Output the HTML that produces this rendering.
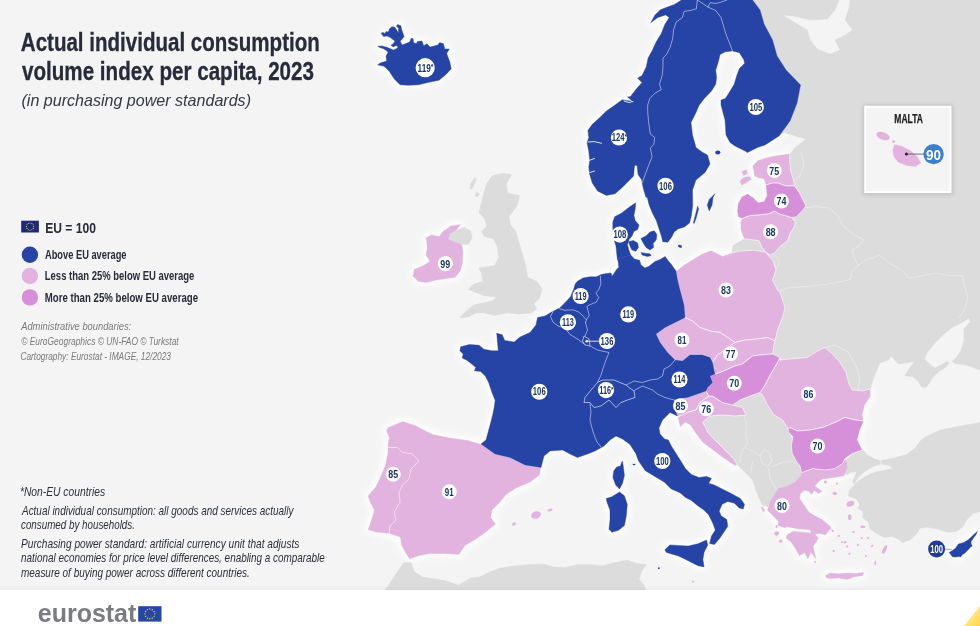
<!DOCTYPE html><html><head><meta charset="utf-8"><title>Actual individual consumption volume index per capita, 2023</title>
<style>html,body{margin:0;padding:0;background:#fff}svg{display:block}text{font-family:"Liberation Sans",Arial,sans-serif}</style></head><body>
<svg width="980" height="626" viewBox="0 0 980 626">
<rect width="980" height="626" fill="#fff"/><rect width="980" height="590" fill="#f4f4f4"/>
<defs><clipPath id="mapclip"><rect x="0" y="0" width="980" height="590"/></clipPath><linearGradient id="yel" x1="0" y1="0" x2="1" y2="1"><stop offset="0" stop-color="#fff3b0"/><stop offset="1" stop-color="#ffd84a"/></linearGradient><linearGradient id="bot" x1="0" y1="0" x2="0" y2="1"><stop offset="0" stop-color="#000" stop-opacity="0"/><stop offset="1" stop-color="#000" stop-opacity="0.035"/></linearGradient><filter id="halo" x="-20%" y="-20%" width="140%" height="140%"><feGaussianBlur stdDeviation="3"/></filter><filter id="sh" x="-10%" y="-10%" width="120%" height="120%"><feGaussianBlur stdDeviation="2"/></filter></defs>
<g clip-path="url(#mapclip)">
<g filter="url(#halo)" opacity="0.85">
<polygon points="443.2,231.2 451.1,225.9 460.4,224.6 456.4,229.9 449.8,233.8 448.5,239.1 453.8,241.7 461.7,244.4 463,251 462.5,262.8 460.4,270.7 455.1,277.3 447.2,278.6 436.6,280 426.1,282.6 418.2,281.3 412.9,276 414.2,269.4 423.5,265.5 430,261.5 426.1,254.9 427.4,247 426.1,237.8 431.4,235.1 439.3,236.5" fill="#fff" stroke="#fff" stroke-width="7" stroke-linejoin="round" />
<polygon points="387.5,427.5 402.5,421 415,425 432.5,434 450,437.5 467.5,440 481,444 495,454 510,457.5 525,465 541,467.5 540,475 530,482.5 515,489 506,495 500,502.5 492.5,510 491,517.5 496,524 490,529 482.5,535 475,540 465,546 459,555 445,554 430,554 419,556 409.5,559.5 405,552.5 401,545 400,537.5 390,534 376,532.5 367.5,530 371,520 374,510 370,502.5 367.5,496 375,487.5 380,477.5 385,465 387.5,452.5 387.5,445 389,437.5 386,431" fill="#fff" stroke="#fff" stroke-width="7" stroke-linejoin="round" />
<polygon points="676,271 685,264 693.8,258.8 701.5,254 711.1,250.2 716.8,253.1 722.6,256 731.2,253.1 739.8,251.2 753.3,250.2 765.7,252.1 769.5,256.9 772.5,260 776,270 772.5,280 777.5,290 780,292.5 785,307.5 782.5,317.5 777.5,330 775,341 767.5,337.5 757.5,339 745,340 735,342.5 730,339 720,332.5 710,331 700,327.5 692.5,321 685,317.5 684,305 680,290 677.5,280" fill="#fff" stroke="#fff" stroke-width="7" stroke-linejoin="round" />
<polygon points="780,360 790,359 807.5,357.5 817.5,351 825,347.5 832.5,354 840,362.5 846,372.5 849,384 852.5,390 862.5,391 870,389 871,396 865,405 862.5,415 864,421 855,420 845,417.5 835,422.5 822.5,427.5 810,430 797.5,431 790,427.5 788,429 787.5,427.5 782.5,420 774,415 767.5,405 762.5,395 760,392.5 765,385 770,375 776,365 780,357.5" fill="#fff" stroke="#fff" stroke-width="7" stroke-linejoin="round" />
<polygon points="767.3,510 770.4,501.7 775.6,492.4 778.7,488.2 787,486.2 795.3,482 800.5,475.8 801.6,472.7 814,468.5 828.5,469.5 838.9,466.4 844.1,461.2 846.2,459.2 847.2,467.5 844.1,475.8 838.9,476.8 830.6,477.9 822.3,478.9 818.2,482 815,486.2 822.3,491.4 818.2,493.4 814,490.3 811.9,494.5 808.8,491.4 804.7,490.3 800.5,493.4 799.5,498.6 804.7,505.9 808.8,512.1 814,515.5 822.3,520.5 828.5,525.7 831.5,529 829,530 825.4,535 820.2,533.5 815,534 818.2,538.1 816.1,542.2 813,546.4 815,554.7 816.1,558.9 810.9,552.6 807.8,558.9 804.7,552.6 799.5,555.7 795.3,548.5 791.2,542.2 786,538.1 787,535 793.2,531.3 804.7,532.4 811.5,533 809.9,529.8 797.4,528.7 787,526.7 784.9,527.7 777.7,525.6 778.7,521.5 772.5,515.2" fill="#fff" stroke="#fff" stroke-width="7" stroke-linejoin="round" />
<polygon points="825.4,575.5 830.6,573 838.9,573.8 847.2,573 855.6,573.4 863.9,572.4 862.8,575.5 853.5,577.1 847.2,579.6 838.9,578 830.6,578.6 826.1,577.6" fill="#fff" stroke="#fff" stroke-width="7" stroke-linejoin="round" />
<polygon points="752.3,165.9 758,160.1 766.7,157.3 776.3,155.3 789.7,153.4 789.7,161.1 790.6,170.7 793.5,180.3 794.5,186 785.8,186 778.2,183.1 772.4,183.1 765.7,185 763.8,179.3 759,178.3 754.2,176.4 753.3,170.7" fill="#fff" stroke="#fff" stroke-width="7" stroke-linejoin="round" />
<polygon points="741.8,218.6 749.4,215.7 759,214.8 768.6,213.8 774.3,210.9 779.1,213.8 785.8,215.7 791.6,217.6 795.4,222.4 793.5,228.2 789.7,233.9 787.8,240.6 780.1,246.4 774.3,253.1 770.5,255 765.7,252.1 761.9,247.3 759,240.6 751.3,239.7 743.7,238.7 740.8,230.1 740.2,222.4" fill="#fff" stroke="#fff" stroke-width="7" stroke-linejoin="round" />
<polygon points="737.9,203.3 741.8,196.5 747.5,193.7 753.3,197.5 758,202.3 763.8,201.3 766.7,195.6 765.7,185 772.4,183.1 778.2,183.1 785.8,186 794.5,186 799.3,192.7 803.1,200.4 806,206.1 801.2,211.9 796.4,216.7 791.6,217.6 785.8,215.7 779.1,213.8 774.3,210.9 768.6,213.8 759,214.8 749.4,215.7 741.8,218.6 737.9,216.7 737,210.9" fill="#fff" stroke="#fff" stroke-width="7" stroke-linejoin="round" />
<polygon points="788,429 790,427.5 797.5,431 810,430 822.5,427.5 835,422.5 845,417.5 855,420 864,421 860,430 857.5,440 862.5,450 852.5,453.5 845,458.5 842.5,463.5 835,468.5 825,470 812.5,468.5 801.6,472.7 800,466 796,460.7 792,452.7 791.5,445 792.8,436.8 788.5,432" fill="#fff" stroke="#fff" stroke-width="7" stroke-linejoin="round" />
<polygon points="709,396 712.5,396 722.5,402.5 732.5,405 742.5,407.5 746,415 735,416 722.5,415 710,416 702.5,422.5 706,428 707.5,432 715,440 725,450 732.5,457.5 737.5,465 735,466 722.5,457.5 712.5,450 702.5,442.5 695,432.5 690,425 685,422.5 680,427.5 677.5,417.5 680,416 687.5,412.5 696,410 700,402.5" fill="#fff" stroke="#fff" stroke-width="7" stroke-linejoin="round" />
<polygon points="381,33.1 383,32.5 384.9,33.4 386.1,31.5 388.4,32.1 389.3,29 391.9,26.7 394.5,27 396.4,29.6 398.3,32.8 398.6,28.3 396.4,26.1 397.7,24.5 400.9,25.8 401.5,29 402.8,32.8 404.1,36.6 402.1,39.2 400.2,41.1 402,45 408.4,42.5 409.8,41.7 411.1,38.5 413,38.5 413.6,42.4 416.2,43.7 417.5,41.4 422,41.1 423.2,44.3 423.7,45.7 426.9,43.8 430.1,47 437.8,45 439.7,42.5 443.5,43.8 444.8,48.9 449.3,48.9 446.7,53.4 449.9,62.3 451.2,68.7 446.7,73.8 439.1,80.2 430.1,82.1 418.6,84.7 408.4,85.3 400,84.7 394.3,78.9 389.2,71.3 384.1,66.2 377.7,64.9 380.2,63 386.6,61.1 386,55.9 387.9,52.7 387.4,51.3 383.6,48.8 379.8,47.5 377.8,46.2 381.7,45.9 386.8,47.2 390.6,48.8 393.2,50.1 396,49 398.3,46.9 396.1,45.6 393.2,46.9 390.9,45.3 393.2,43.7 395.1,41.1 393.2,39.8 390,37.3 386.8,36 383.6,36.6" fill="#fff" stroke="#fff" stroke-width="7" stroke-linejoin="round" />
<polygon points="681.5,0 752.5,0 760,10 764,24 772.5,40 777,56 786,70 800.5,85 797,103 790,121 779,136 765,145 757.5,147.5 747.5,152.5 745,151 735,146 730,142.5 726,135 725,120 721,105 721,100.1 725.4,98.4 728.9,93.1 734.2,84.3 736.8,75.5 739.4,68.5 744.7,63.2 743.8,59.7 739.4,52.7 732.4,50.9 725.4,51.8 720.1,54.5 718.4,61.5 715.7,70.3 716.6,77.3 715.7,84.3 711.3,91.3 704.3,98.4 699,105.4 696,112.5 691,122.5 692.5,135 696,147.5 702,152 707.5,155 710,164 705,172.5 696,180 692.5,190 692.7,205.2 691.4,215.5 689.5,223.1 684.4,227 678,228.9 674.2,232.1 671.6,237.2 667.8,242.3 662.7,241.7 661.4,235.9 658.8,228.2 656.3,220.6 652.4,212.9 649.2,205.2 647.3,197.6 645.9,197.2 643.3,188.4 641.5,179.6 638,174.4 637.1,165.6 634.5,165.6 633.6,176.1 629.2,180.5 622.2,187.5 615.1,193.7 606.4,195.4 597.6,191.1 592.3,183.1 589.7,174.4 588.8,167.3 589.7,160.3 588.8,151.5 587,142.7 588.8,137.5 587.9,130.4 592.3,124.3 599.3,118.1 606.4,111.1 615.1,104.9 622.2,99.7 632.7,101.4 627.5,97 630.5,96.6 635.8,89.6 642,82.6 637.6,78.2 642,75.5 646.3,66.7 648.1,58 652.5,50.1 656,42.2 661.3,33.4 664.8,24.6 669.2,17.6 665.7,14.9 657.8,17.6 650.7,22.8 655,15 660.4,9.7 667.4,7 674.5,4.4" fill="#fff" stroke="#fff" stroke-width="7" stroke-linejoin="round" />
<polygon points="617.3,258.9 630.7,255.1 634.5,258.9 639.6,260.2 640.9,264.7 644.8,267.9 648.6,266.6 655,261.5 660.1,259.6 665.2,256.4 667.8,260.2 671.6,264.7 676,271 677.5,280 680,290 684,305 685,317.5 675,322.5 665,327.5 656,334 660,342.5 667.5,352.5 675,360 682.5,361 690,355 702.5,355 710,357.5 712.5,362.5 714,370 715,374 710,376 712.5,382.5 707.5,387.5 706,391 697.5,394 687.5,397.5 677.5,399 674,400 675,410 677.5,416 670,412.5 662.5,420 659,428 660,434 664.5,439 668.4,440 671.2,445.8 676,453.4 680.8,461.1 685.6,468.8 691.4,474.5 699,477.4 706.7,476.4 711.5,478.4 708.6,483.2 714.4,485.1 722.1,488.9 731.7,493.7 740.3,498.5 744.5,504.3 743.2,509 739.3,508.1 734.5,503.3 727.8,501.4 722.1,504.3 719.2,511 721.1,515.8 726.8,519.6 727.8,526.3 724,532.1 720.1,537.8 714.4,544.5 709.6,543.6 711.5,535.9 715.3,530.1 712.5,522.5 708.6,514.8 703.8,510 697.1,505.2 691.4,500.4 685.6,497.5 679.9,492.7 671.2,488.9 664.5,482.2 654.9,476.4 645.3,470.7 638.6,461.1 635.8,453.4 630,444.5 622.5,439 616,436 610,440 604,446 595,451 587.5,454 577.5,457.5 570,454 562.5,450 550,451 544,456 541,467.5 525,465 510,457.5 495,454 481,444 486,440 488.7,430 490.3,424.3 492.7,414.7 494.3,406.7 495.1,400.3 491.9,392.3 488.7,382.7 485.5,376.3 480.7,371.6 474.3,370.8 475.9,367.6 471.1,363.6 467.1,360.4 462.3,358 463.1,354 459.9,350.8 460.7,346.8 469.5,344.4 479.1,345.2 483.9,349.2 491.9,350.8 498.3,350.8 497.5,342.8 496.7,333.2 502.3,334.8 504.7,340.4 514.2,342 520,337 530,332.5 536,325 537.5,317.5 545,315.9 551.7,312 559.5,308.1 561.8,305.9 566.2,301.4 570.7,296.4 573.5,289.7 575.2,284.1 577.4,281.3 583,277.9 589.7,276.8 596.4,276.8 600.9,274.6 606.5,273.4 611,272.9 612.1,276.2 614.3,272.9 616.6,269.5 618.8,267.3 618.2,261.7" fill="#fff" stroke="#fff" stroke-width="7" stroke-linejoin="round" />
<polygon points="635.8,202.7 629.4,207.1 621.7,212.9 614.7,216.7 612.8,221.9 612.8,228.2 614.1,239.8 616,246.2 616.6,252.5 617.3,258.9 630.7,255.1 628.8,250 627.5,244.9 629.4,239.1 632,235.9 633.9,231.4 637.7,229.5 639,225.1 635.2,220.6 633.9,215.5 635.2,209.1" fill="#fff" stroke="#fff" stroke-width="7" stroke-linejoin="round" />
<polygon points="640.9,238.5 646,235.9 649.9,232.1 654.3,230.8 656.9,234.6 656.3,239.8 653.1,243.6 653.7,247.4 649.9,250 646,247.4 643.5,243.6" fill="#fff" stroke="#fff" stroke-width="7" stroke-linejoin="round" />
<polygon points="622.5,461.2 623.4,467 624.4,475.6 622.5,483.3 619.6,489 615.8,485.2 612.9,477.5 613.8,470.8 616.7,467 620.5,466 621.5,462.5" fill="#fff" stroke="#fff" stroke-width="7" stroke-linejoin="round" />
<polygon points="606.2,498.6 611.9,496.7 619.6,491.9 624.4,495.8 627.3,504.4 626.3,515.9 624.4,525.5 618.6,530.3 611.9,532.2 609,529.3 610,519.7 610,510.1 607.1,502.5" fill="#fff" stroke="#fff" stroke-width="7" stroke-linejoin="round" />
<polygon points="664.9,549.8 669.8,544.9 678.4,545.4 688.2,546.1 698,543.7 706.5,540 707.8,544.9 704.1,552.2 702.9,559.6 704.1,566.9 698,565.7 688.2,560.8 678.4,555.9 669.8,553.5 666.1,552.2" fill="#fff" stroke="#fff" stroke-width="7" stroke-linejoin="round" />
<polygon points="949.2,552.4 952,550.8 955.2,548.4 957.1,546 958.3,544 961.5,543.2 964.7,542 967.9,540 971.1,537.2 974.3,534 977.5,531.6 975.9,534.8 973.5,538 971.1,541.6 971.1,544 972.3,546 970.3,547.2 968.7,549.2 966.7,551.2 964.7,553.2 962.3,554.8 960.7,557.1 959.1,556.4 956,557.1 952.8,556.9 951.2,555.2 950,553.6" fill="#fff" stroke="#fff" stroke-width="7" stroke-linejoin="round" />
</g>
<polygon points="700,0 839,0 835,10 827.5,19 810,20 792.5,16 782.5,15 792.5,21 807.5,30 810,40 817.5,49 830,54 840,50 835,40 845,35 852.5,30 845,20 849,7.5 850,0 980,0 980,370.3 971.9,367.1 963.9,364.7 955.9,363.9 951.9,361.5 955.9,358.3 960.7,351.1 963.9,339.9 963.9,328.8 970.3,321.6 968.7,318.4 962.3,322.4 952.7,327.2 944.7,333.6 935.1,343.1 927.1,352.7 924.7,359.1 930.3,364.7 935.1,367.9 939.9,365.5 946.3,361.5 949.5,363.1 946.3,367.1 939.9,371.1 933.5,376.7 929.5,383.1 925.5,387.9 921.5,387.1 918.3,381.5 912.7,376.7 904.7,375.9 907.9,370.3 914.3,361.5 906.3,363.1 898.4,363.9 894.4,359.9 891.2,355.9 888.8,359.9 880,363.1 876.8,370.3 873.6,378.3 871.2,386.3 871,389 850,400 800,400 760,380 740,330 745,270 731.5,254 732.2,250 733.1,245.4 742.7,239.7 760,230 780,200 780,165 790,154 795,147.5 806,139 795,136 785,132.5 779,136 770,100 740,30" fill="#dcdcdc" stroke="#dcdcdc" stroke-width="0.3" stroke-linejoin="round" />
<polygon points="702.5,422.5 710,416 722.5,415 735,416 746,415 738,410 730,400 745,388 770,385 790,430 795,456 802.5,471 797.5,481 789,486 779,488.5 775,493.5 772.5,501 767.5,507 762.5,505 757.5,495 752.5,480 745,472 740,467.5 737.5,465 725,450 707.5,432" fill="#dcdcdc" stroke="#dcdcdc" stroke-width="0.3" stroke-linejoin="round" />
<polygon points="861.8,448.3 867,454.5 874.3,458.7 880.5,460.4 884.7,459.7 894,457.7 906.5,454.5 914.8,448.3 921,440 925,437 940,430 960,426 980,422.5 980,511.7 972.9,513.7 966.7,520 962.6,527.2 956.3,531.4 948,532.4 937.6,529.3 927.3,527.2 920,528.3 916.9,533.5 910.6,539.7 902.3,542.8 899.2,539.7 891.9,536.6 884.7,537.6 876.4,533.5 870.1,529.3 868,522.1 862.8,517.9 862.8,511.7 857.7,508.5 859.7,504.4 856.6,499.2 848.3,496.1 849.3,489.9 854.5,484.7 852.5,481.5 856,474 856.6,471.2 850,473 846.2,475.3 844.2,471.2 846.2,460.8 852.5,453.5" fill="#dcdcdc" stroke="#dcdcdc" stroke-width="0.3" stroke-linejoin="round" />
<polygon points="492,175.8 502.5,173.2 511.8,174.5 506.5,183.7 507.8,193 519.7,195.6 517,206.1 509.1,216.7 510.5,224.6 515.7,231.2 519.7,244.4 523.6,257.5 526.3,268.1 527.6,277.3 536.8,281.3 542.1,289.2 539.5,298.4 534.2,303.7 536.8,309 531.5,312.9 518.4,314.2 507.8,312.9 494.6,315.6 484.1,312.9 476.2,312.9 468.3,316.9 459,318.2 465.6,311.6 473.6,305 484.1,302.4 492,301 496,297.1 484.1,295.8 473.6,291.8 468.3,289.2 473.6,283.9 482.8,281.3 481.5,273.4 478.8,268.1 486.7,266.8 494.6,265.5 498.6,257.5 497.3,247 493.3,239.1 484.1,236.5 481.5,231.2 486.7,225.9 484.1,218 478.8,212.7 481.5,202.2 484.1,191.6 486.7,183.7" fill="#dcdcdc" stroke="#dcdcdc" stroke-width="0.3" stroke-linejoin="round" />
<polygon points="449.8,233.8 456.4,229.9 464.3,227.2 470.9,231.2 472.2,237.8 468.3,244.4 461.7,244.4 453.8,241.7 448.5,239.1" fill="#dcdcdc" stroke="#dcdcdc" stroke-width="0.3" stroke-linejoin="round" />
<polygon points="474.9,177.1 476.5,180 472,189 469.6,189 471,183" fill="#dcdcdc" stroke="#dcdcdc" stroke-width="0.3" stroke-linejoin="round" />
<polygon points="476,192 479.5,193.5 478,197 475,196" fill="#dcdcdc" stroke="#dcdcdc" stroke-width="0.3" stroke-linejoin="round" />
<polygon points="384.3,591 403.9,562.4 411.2,562.4 414.3,571.6 422.9,577.1 443.7,580.2 458.4,585.1 470.6,577.8 480,576.7 489.8,571.8 499.6,568.2 514.3,565.7 529,564.5 543.7,564 553.5,566.9 565.7,567.4 578,564.5 590.2,564.5 602.5,565.7 617.2,562 627,560.1 636.7,563.3 646.5,564.5 641.6,571.8 639.2,579.2 644.1,585.3 646.5,591" fill="#dcdcdc" stroke="#dcdcdc" stroke-width="0.3" stroke-linejoin="round" />
<polygon points="875.3,466 881.5,464.5 889.9,466 891.9,468 884.7,470.1 877.4,471.2 871.2,473.2 864.9,476.4 858.7,480.5 854.5,483.6 857.7,478.4 862.8,473.2 869.1,469.1" fill="#f4f4f4" stroke="#f4f4f4" stroke-width="0.2" stroke-linejoin="round" />
<line x1="880.9" y1="460" x2="881" y2="465" stroke="#f4f4f4" stroke-width="0.7"/>
<polyline points="804.5,207.9 816,206.6 828.8,207.9 837.7,215.5 842.8,225.8 854.3,234.7 863.3,239.8 859.4,246.2 851.8,250 855.6,260.3 858.1,265.4" fill="none" stroke="#ebebeb" stroke-width="0.8" stroke-opacity="1" stroke-linejoin="round" stroke-linecap="round"/>
<polyline points="858.1,265.4 851.8,271.8 850.5,279.4 839,282 826.2,284.5 813.4,285.8 798.1,287.1 785.3,288.4 779,292.2" fill="none" stroke="#ebebeb" stroke-width="0.8" stroke-opacity="1" stroke-linejoin="round" stroke-linecap="round"/>
<polyline points="858.1,265.4 865.8,260.3 879.9,255.2 888.8,262.8 900.3,269.2 909.2,278.1 923.3,275.6 936.1,273 948.8,275.6 962.9,275.6 964.2,284.5 968,297.3 964.2,310.1 959.1,317.7" fill="none" stroke="#ebebeb" stroke-width="0.8" stroke-opacity="1" stroke-linejoin="round" stroke-linecap="round"/>
<polyline points="743.9,414.9 746.8,424.5 745.8,434.1 747.7,441.8 744.8,447.5 741,453.3 740,461.9" fill="none" stroke="#ebebeb" stroke-width="0.8" stroke-opacity="1" stroke-linejoin="round" stroke-linecap="round"/>
<polyline points="744.8,447.5 752.5,451.3 760.2,456.1 764,449.4 769.8,453.3 771.7,460.9 767.8,466.7 762.1,462.8 760.2,456.1" fill="none" stroke="#ebebeb" stroke-width="0.8" stroke-opacity="1" stroke-linejoin="round" stroke-linecap="round"/>
<polyline points="752.5,461.9 750.6,472.4" fill="none" stroke="#ebebeb" stroke-width="0.8" stroke-opacity="1" stroke-linejoin="round" stroke-linecap="round"/>
<polyline points="771.7,466.7 781.3,462.8 790.8,460.9 796.6,463.8" fill="none" stroke="#ebebeb" stroke-width="0.8" stroke-opacity="1" stroke-linejoin="round" stroke-linecap="round"/>
<polyline points="768.8,468.6 769.8,478.2 776.5,489.7" fill="none" stroke="#ebebeb" stroke-width="0.8" stroke-opacity="1" stroke-linejoin="round" stroke-linecap="round"/>
<polyline points="825,347.5 835,345 848,352 856,366 860,378 858,390" fill="none" stroke="#ebebeb" stroke-width="0.8" stroke-opacity="1" stroke-linejoin="round" stroke-linecap="round"/>
<polyline points="794,180 800,176 804,165 801,152" fill="none" stroke="#ebebeb" stroke-width="0.8" stroke-opacity="1" stroke-linejoin="round" stroke-linecap="round"/>
<polyline points="772.5,252.5 780,262 776,270" fill="none" stroke="#ebebeb" stroke-width="0.8" stroke-opacity="1" stroke-linejoin="round" stroke-linecap="round"/>
<polygon points="443.2,231.2 451.1,225.9 460.4,224.6 456.4,229.9 449.8,233.8 448.5,239.1 453.8,241.7 461.7,244.4 463,251 462.5,262.8 460.4,270.7 455.1,277.3 447.2,278.6 436.6,280 426.1,282.6 418.2,281.3 412.9,276 414.2,269.4 423.5,265.5 430,261.5 426.1,254.9 427.4,247 426.1,237.8 431.4,235.1 439.3,236.5" fill="#e2b3df" stroke="#e2b3df" stroke-width="0.3" stroke-linejoin="round" />
<polygon points="387.5,427.5 402.5,421 415,425 432.5,434 450,437.5 467.5,440 481,444 495,454 510,457.5 525,465 541,467.5 540,475 530,482.5 515,489 506,495 500,502.5 492.5,510 491,517.5 496,524 490,529 482.5,535 475,540 465,546 459,555 445,554 430,554 419,556 409.5,559.5 405,552.5 401,545 400,537.5 390,534 376,532.5 367.5,530 371,520 374,510 370,502.5 367.5,496 375,487.5 380,477.5 385,465 387.5,452.5 387.5,445 389,437.5 386,431" fill="#e2b3df" stroke="#fff" stroke-width="0.6" stroke-linejoin="round" />
<polygon points="676,271 685,264 693.8,258.8 701.5,254 711.1,250.2 716.8,253.1 722.6,256 731.2,253.1 739.8,251.2 753.3,250.2 765.7,252.1 769.5,256.9 772.5,260 776,270 772.5,280 777.5,290 780,292.5 785,307.5 782.5,317.5 777.5,330 775,341 767.5,337.5 757.5,339 745,340 735,342.5 730,339 720,332.5 710,331 700,327.5 692.5,321 685,317.5 684,305 680,290 677.5,280" fill="#e2b3df" stroke="#fff" stroke-width="0.6" stroke-linejoin="round" />
<polygon points="685,317.5 692.5,321 700,327.5 710,331 720,332.5 730,339 735,342.5 726,349 717.5,355 712.5,362.5 710,357.5 702.5,355 690,355 682.5,361 675,360 667.5,352.5 660,342.5 656,334 665,327.5 675,322.5" fill="#e2b3df" stroke="#fff" stroke-width="0.6" stroke-linejoin="round" />
<polygon points="735,342.5 745,340 757.5,339 767.5,337.5 775,341 774,345 772.5,354 760,355 752.5,356 742.5,364 735,366 720,372.5 715,374 714,370 712.5,362.5 717.5,355 726,349" fill="#e2b3df" stroke="#fff" stroke-width="0.6" stroke-linejoin="round" />
<polygon points="674,400 677.5,399 687.5,397.5 697.5,394 706,391 709,396 700,402.5 696,410 687.5,412.5 680,416 677.5,416 675,410" fill="#e2b3df" stroke="#fff" stroke-width="0.6" stroke-linejoin="round" />
<polygon points="709,396 712.5,396 722.5,402.5 732.5,405 742.5,407.5 746,415 735,416 722.5,415 710,416 702.5,422.5 706,428 707.5,432 715,440 725,450 732.5,457.5 737.5,465 735,466 722.5,457.5 712.5,450 702.5,442.5 695,432.5 690,425 685,422.5 680,427.5 677.5,417.5 680,416 687.5,412.5 696,410 700,402.5" fill="#e2b3df" stroke="#fff" stroke-width="0.6" stroke-linejoin="round" />
<polygon points="780,360 790,359 807.5,357.5 817.5,351 825,347.5 832.5,354 840,362.5 846,372.5 849,384 852.5,390 862.5,391 870,389 871,396 865,405 862.5,415 864,421 855,420 845,417.5 835,422.5 822.5,427.5 810,430 797.5,431 790,427.5 788,429 787.5,427.5 782.5,420 774,415 767.5,405 762.5,395 760,392.5 765,385 770,375 776,365 780,357.5" fill="#e2b3df" stroke="#fff" stroke-width="0.6" stroke-linejoin="round" />
<polygon points="767.3,510 770.4,501.7 775.6,492.4 778.7,488.2 787,486.2 795.3,482 800.5,475.8 801.6,472.7 814,468.5 828.5,469.5 838.9,466.4 844.1,461.2 846.2,459.2 847.2,467.5 844.1,475.8 838.9,476.8 830.6,477.9 822.3,478.9 818.2,482 815,486.2 822.3,491.4 818.2,493.4 814,490.3 811.9,494.5 808.8,491.4 804.7,490.3 800.5,493.4 799.5,498.6 804.7,505.9 808.8,512.1 814,515.5 822.3,520.5 828.5,525.7 831.5,529 829,530 825.4,535 820.2,533.5 815,534 818.2,538.1 816.1,542.2 813,546.4 815,554.7 816.1,558.9 810.9,552.6 807.8,558.9 804.7,552.6 799.5,555.7 795.3,548.5 791.2,542.2 786,538.1 787,535 793.2,531.3 804.7,532.4 811.5,533 809.9,529.8 797.4,528.7 787,526.7 784.9,527.7 777.7,525.6 778.7,521.5 772.5,515.2" fill="#e2b3df" stroke="#e2b3df" stroke-width="0.3" stroke-linejoin="round" />
<polygon points="825.4,575.5 830.6,573 838.9,573.8 847.2,573 855.6,573.4 863.9,572.4 862.8,575.5 853.5,577.1 847.2,579.6 838.9,578 830.6,578.6 826.1,577.6" fill="#e2b3df" stroke="#e2b3df" stroke-width="0.3" stroke-linejoin="round" />
<polygon points="808,513 812,514.5 822,519.5 831,527 829.5,528.5 819,522.5 809,516" fill="#e2b3df" stroke="#e2b3df" stroke-width="0.3" stroke-linejoin="round" />
<polygon points="752.3,165.9 758,160.1 766.7,157.3 776.3,155.3 789.7,153.4 789.7,161.1 790.6,170.7 793.5,180.3 794.5,186 785.8,186 778.2,183.1 772.4,183.1 765.7,185 763.8,179.3 759,178.3 754.2,176.4 753.3,170.7" fill="#e2b3df" stroke="#fff" stroke-width="0.6" stroke-linejoin="round" />
<polygon points="741.8,218.6 749.4,215.7 759,214.8 768.6,213.8 774.3,210.9 779.1,213.8 785.8,215.7 791.6,217.6 795.4,222.4 793.5,228.2 789.7,233.9 787.8,240.6 780.1,246.4 774.3,253.1 770.5,255 765.7,252.1 761.9,247.3 759,240.6 751.3,239.7 743.7,238.7 740.8,230.1 740.2,222.4" fill="#e2b3df" stroke="#fff" stroke-width="0.6" stroke-linejoin="round" />
<polyline points="387.5,447.5 397.5,447.5 402.5,452.5 412.5,454 419,461 411,469 409,479 402.5,485 399,492.5 400,502.5 394,512.5 396,520 390,526 389,534" fill="none" stroke="#fff" stroke-width="0.6" stroke-opacity="0.85" stroke-linejoin="round" stroke-linecap="round"/>
<polygon points="737.9,203.3 741.8,196.5 747.5,193.7 753.3,197.5 758,202.3 763.8,201.3 766.7,195.6 765.7,185 772.4,183.1 778.2,183.1 785.8,186 794.5,186 799.3,192.7 803.1,200.4 806,206.1 801.2,211.9 796.4,216.7 791.6,217.6 785.8,215.7 779.1,213.8 774.3,210.9 768.6,213.8 759,214.8 749.4,215.7 741.8,218.6 737.9,216.7 737,210.9" fill="#d690da" stroke="#fff" stroke-width="0.6" stroke-linejoin="round" />
<polygon points="715,374 720,372.5 735,366 742.5,364 752.5,356 760,355 772.5,354 780,357.5 776,365 770,375 765,385 760,392.5 750,396 740,400 732.5,405 722.5,402.5 712.5,396 709,396 706,391 707.5,387.5 712.5,382.5 710,376" fill="#d690da" stroke="#fff" stroke-width="0.6" stroke-linejoin="round" />
<polygon points="788,429 790,427.5 797.5,431 810,430 822.5,427.5 835,422.5 845,417.5 855,420 864,421 860,430 857.5,440 862.5,450 852.5,453.5 845,458.5 842.5,463.5 835,468.5 825,470 812.5,468.5 801.6,472.7 800,466 796,460.7 792,452.7 791.5,445 792.8,436.8 788.5,432" fill="#d690da" stroke="#fff" stroke-width="0.6" stroke-linejoin="round" />
<polygon points="381,33.1 383,32.5 384.9,33.4 386.1,31.5 388.4,32.1 389.3,29 391.9,26.7 394.5,27 396.4,29.6 398.3,32.8 398.6,28.3 396.4,26.1 397.7,24.5 400.9,25.8 401.5,29 402.8,32.8 404.1,36.6 402.1,39.2 400.2,41.1 402,45 408.4,42.5 409.8,41.7 411.1,38.5 413,38.5 413.6,42.4 416.2,43.7 417.5,41.4 422,41.1 423.2,44.3 423.7,45.7 426.9,43.8 430.1,47 437.8,45 439.7,42.5 443.5,43.8 444.8,48.9 449.3,48.9 446.7,53.4 449.9,62.3 451.2,68.7 446.7,73.8 439.1,80.2 430.1,82.1 418.6,84.7 408.4,85.3 400,84.7 394.3,78.9 389.2,71.3 384.1,66.2 377.7,64.9 380.2,63 386.6,61.1 386,55.9 387.9,52.7 387.4,51.3 383.6,48.8 379.8,47.5 377.8,46.2 381.7,45.9 386.8,47.2 390.6,48.8 393.2,50.1 396,49 398.3,46.9 396.1,45.6 393.2,46.9 390.9,45.3 393.2,43.7 395.1,41.1 393.2,39.8 390,37.3 386.8,36 383.6,36.6" fill="#2643a6" stroke="#2643a6" stroke-width="0.4" stroke-linejoin="round" />
<polygon points="681.5,0 752.5,0 760,10 764,24 772.5,40 777,56 786,70 800.5,85 797,103 790,121 779,136 765,145 757.5,147.5 747.5,152.5 745,151 735,146 730,142.5 726,135 725,120 721,105 721,100.1 725.4,98.4 728.9,93.1 734.2,84.3 736.8,75.5 739.4,68.5 744.7,63.2 743.8,59.7 739.4,52.7 732.4,50.9 725.4,51.8 720.1,54.5 718.4,61.5 715.7,70.3 716.6,77.3 715.7,84.3 711.3,91.3 704.3,98.4 699,105.4 696,112.5 691,122.5 692.5,135 696,147.5 702,152 707.5,155 710,164 705,172.5 696,180 692.5,190 692.7,205.2 691.4,215.5 689.5,223.1 684.4,227 678,228.9 674.2,232.1 671.6,237.2 667.8,242.3 662.7,241.7 661.4,235.9 658.8,228.2 656.3,220.6 652.4,212.9 649.2,205.2 647.3,197.6 645.9,197.2 643.3,188.4 641.5,179.6 638,174.4 637.1,165.6 634.5,165.6 633.6,176.1 629.2,180.5 622.2,187.5 615.1,193.7 606.4,195.4 597.6,191.1 592.3,183.1 589.7,174.4 588.8,167.3 589.7,160.3 588.8,151.5 587,142.7 588.8,137.5 587.9,130.4 592.3,124.3 599.3,118.1 606.4,111.1 615.1,104.9 622.2,99.7 632.7,101.4 627.5,97 630.5,96.6 635.8,89.6 642,82.6 637.6,78.2 642,75.5 646.3,66.7 648.1,58 652.5,50.1 656,42.2 661.3,33.4 664.8,24.6 669.2,17.6 665.7,14.9 657.8,17.6 650.7,22.8 655,15 660.4,9.7 667.4,7 674.5,4.4" fill="#2643a6" stroke="#2643a6" stroke-width="0.4" stroke-linejoin="round" />
<polygon points="617.3,258.9 630.7,255.1 634.5,258.9 639.6,260.2 640.9,264.7 644.8,267.9 648.6,266.6 655,261.5 660.1,259.6 665.2,256.4 667.8,260.2 671.6,264.7 676,271 677.5,280 680,290 684,305 685,317.5 675,322.5 665,327.5 656,334 660,342.5 667.5,352.5 675,360 682.5,361 690,355 702.5,355 710,357.5 712.5,362.5 714,370 715,374 710,376 712.5,382.5 707.5,387.5 706,391 697.5,394 687.5,397.5 677.5,399 674,400 675,410 677.5,416 670,412.5 662.5,420 659,428 660,434 664.5,439 668.4,440 671.2,445.8 676,453.4 680.8,461.1 685.6,468.8 691.4,474.5 699,477.4 706.7,476.4 711.5,478.4 708.6,483.2 714.4,485.1 722.1,488.9 731.7,493.7 740.3,498.5 744.5,504.3 743.2,509 739.3,508.1 734.5,503.3 727.8,501.4 722.1,504.3 719.2,511 721.1,515.8 726.8,519.6 727.8,526.3 724,532.1 720.1,537.8 714.4,544.5 709.6,543.6 711.5,535.9 715.3,530.1 712.5,522.5 708.6,514.8 703.8,510 697.1,505.2 691.4,500.4 685.6,497.5 679.9,492.7 671.2,488.9 664.5,482.2 654.9,476.4 645.3,470.7 638.6,461.1 635.8,453.4 630,444.5 622.5,439 616,436 610,440 604,446 595,451 587.5,454 577.5,457.5 570,454 562.5,450 550,451 544,456 541,467.5 525,465 510,457.5 495,454 481,444 486,440 488.7,430 490.3,424.3 492.7,414.7 494.3,406.7 495.1,400.3 491.9,392.3 488.7,382.7 485.5,376.3 480.7,371.6 474.3,370.8 475.9,367.6 471.1,363.6 467.1,360.4 462.3,358 463.1,354 459.9,350.8 460.7,346.8 469.5,344.4 479.1,345.2 483.9,349.2 491.9,350.8 498.3,350.8 497.5,342.8 496.7,333.2 502.3,334.8 504.7,340.4 514.2,342 520,337 530,332.5 536,325 537.5,317.5 545,315.9 551.7,312 559.5,308.1 561.8,305.9 566.2,301.4 570.7,296.4 573.5,289.7 575.2,284.1 577.4,281.3 583,277.9 589.7,276.8 596.4,276.8 600.9,274.6 606.5,273.4 611,272.9 612.1,276.2 614.3,272.9 616.6,269.5 618.8,267.3 618.2,261.7" fill="#2643a6" stroke="#2643a6" stroke-width="0.4" stroke-linejoin="round" />
<polygon points="635.8,202.7 629.4,207.1 621.7,212.9 614.7,216.7 612.8,221.9 612.8,228.2 614.1,239.8 616,246.2 616.6,252.5 617.3,258.9 630.7,255.1 628.8,250 627.5,244.9 629.4,239.1 632,235.9 633.9,231.4 637.7,229.5 639,225.1 635.2,220.6 633.9,215.5 635.2,209.1" fill="#2643a6" stroke="#2643a6" stroke-width="0.4" stroke-linejoin="round" />
<polygon points="640.9,238.5 646,235.9 649.9,232.1 654.3,230.8 656.9,234.6 656.3,239.8 653.1,243.6 653.7,247.4 649.9,250 646,247.4 643.5,243.6" fill="#2643a6" stroke="#2643a6" stroke-width="0.4" stroke-linejoin="round" />
<polygon points="628.8,241.7 633.2,240.4 637.7,243 638.4,247.4 635.8,251.3 632,250 630,246.2" fill="#2643a6" stroke="#2643a6" stroke-width="0.4" stroke-linejoin="round" />
<polygon points="640.9,252.5 644.8,253.2 649.9,253.8 651.2,255.7 647.3,256.4 642.2,255.1" fill="#2643a6" stroke="#2643a6" stroke-width="0.4" stroke-linejoin="round" />
<polygon points="714.9,193.7 713,197.5 712,205.2 709.2,210.9 707.3,205.2 709.2,199.4" fill="#2643a6" stroke="#2643a6" stroke-width="0.4" stroke-linejoin="round" />
<polygon points="697.7,206.1 698.6,209 696.5,217 694.2,223.6 693.4,223 695,216.5" fill="#2643a6" stroke="#2643a6" stroke-width="0.4" stroke-linejoin="round" />
<polygon points="622.5,461.2 623.4,467 624.4,475.6 622.5,483.3 619.6,489 615.8,485.2 612.9,477.5 613.8,470.8 616.7,467 620.5,466 621.5,462.5" fill="#2643a6" stroke="#2643a6" stroke-width="0.4" stroke-linejoin="round" />
<polygon points="606.2,498.6 611.9,496.7 619.6,491.9 624.4,495.8 627.3,504.4 626.3,515.9 624.4,525.5 618.6,530.3 611.9,532.2 609,529.3 610,519.7 610,510.1 607.1,502.5" fill="#2643a6" stroke="#2643a6" stroke-width="0.4" stroke-linejoin="round" />
<polygon points="664.9,549.8 669.8,544.9 678.4,545.4 688.2,546.1 698,543.7 706.5,540 707.8,544.9 704.1,552.2 702.9,559.6 704.1,566.9 698,565.7 688.2,560.8 678.4,555.9 669.8,553.5 666.1,552.2" fill="#2643a6" stroke="#2643a6" stroke-width="0.4" stroke-linejoin="round" />
<polygon points="949.2,552.4 952,550.8 955.2,548.4 957.1,546 958.3,544 961.5,543.2 964.7,542 967.9,540 971.1,537.2 974.3,534 977.5,531.6 975.9,534.8 973.5,538 971.1,541.6 971.1,544 972.3,546 970.3,547.2 968.7,549.2 966.7,551.2 964.7,553.2 962.3,554.8 960.7,557.1 959.1,556.4 956,557.1 952.8,556.9 951.2,555.2 950,553.6" fill="#2643a6" stroke="#2643a6" stroke-width="0.4" stroke-linejoin="round" />
<polyline points="697.3,0 696.4,8.8 690.3,10.5 684.1,11.4 682.4,17.6 676.2,22 673.6,29.9 672.7,38.6 670.1,47.4 666.5,54.5 663,58 663,66.7 662.2,75.5 659.5,84.3 661.3,89.6 655.1,93.1 649.9,98.4 647.7,105 647.7,111.1 648.5,121.6 650.3,133.9 654.7,137.5 653.8,144.5 650.3,148 652.1,156.8 648.5,165.6 645.9,172.6 642.4,182.3" fill="none" stroke="#fff" stroke-width="0.6" stroke-opacity="0.85" stroke-linejoin="round" stroke-linecap="round"/>
<polyline points="707.8,7 715.7,10.5 721,17.6 723.6,26.3 726.3,35.1 729.8,43.9 732.4,50.9" fill="none" stroke="#fff" stroke-width="0.6" stroke-opacity="0.85" stroke-linejoin="round" stroke-linecap="round"/>
<polyline points="697.3,0 702.6,3.5 707.8,7 710.5,2.6 715.7,3.5 721.9,1.8 727,0" fill="none" stroke="#fff" stroke-width="0.6" stroke-opacity="0.85" stroke-linejoin="round" stroke-linecap="round"/>
<polyline points="553,311.5 550.5,316.5 553,322 558,326 565,328 570,334.5 579,340 584,344" fill="none" stroke="#fff" stroke-width="0.6" stroke-opacity="0.85" stroke-linejoin="round" stroke-linecap="round"/>
<polyline points="559.5,308.7 565.1,310.3 573,309.8 578.5,312 583,315.9 586.4,319.8" fill="none" stroke="#fff" stroke-width="0.6" stroke-opacity="0.85" stroke-linejoin="round" stroke-linecap="round"/>
<polyline points="585.5,322.5 587.5,330 585,336" fill="none" stroke="#fff" stroke-width="0.6" stroke-opacity="0.85" stroke-linejoin="round" stroke-linecap="round"/>
<polyline points="600.3,276 600.9,284.1 598.7,289.7 595.9,293 598.7,297.5 596.4,302 589.7,304.8 586.9,306.4 588,310.9 589.2,315.4 586.4,319.8 585.5,322.5" fill="none" stroke="#fff" stroke-width="0.6" stroke-opacity="0.85" stroke-linejoin="round" stroke-linecap="round"/>
<polyline points="590,346 597.5,350 609,352.5 605,362.5 601,375 597.5,382.5" fill="none" stroke="#fff" stroke-width="0.6" stroke-opacity="0.85" stroke-linejoin="round" stroke-linecap="round"/>
<polyline points="675,360 670,366 664,369 662.5,376 657.5,379 650,380 642.5,382.5 634,381 626,385" fill="none" stroke="#fff" stroke-width="0.6" stroke-opacity="0.85" stroke-linejoin="round" stroke-linecap="round"/>
<polyline points="674,400 665,397.5 657.5,394 652.5,390 642.5,386 635,390 634,391" fill="none" stroke="#fff" stroke-width="0.6" stroke-opacity="0.85" stroke-linejoin="round" stroke-linecap="round"/>
<polyline points="590,404 591,412 590,420 592.5,430 595,437.5 597,442 601,447" fill="none" stroke="#fff" stroke-width="0.6" stroke-opacity="0.85" stroke-linejoin="round" stroke-linecap="round"/>
<polygon points="584,336 589,339 590,346 585,345 582.5,341" fill="#2643a6" stroke="#fff" stroke-width="0.6" stroke-linejoin="round" />
<polygon points="597.5,382.5 602.5,380 614,380 626,385 629,387.5 634,391 635,397.5 627.5,400 621,402.5 616,407.5 609,400 601,406 594,407.5 590,402.5 584,402.5 585,397.5 591,390" fill="#2643a6" stroke="#fff" stroke-width="0.6" stroke-linejoin="round" />
<ellipse cx="680" cy="246.2" rx="2" ry="1.4" fill="#2643a6" transform="rotate(20 680 246.2)"/>
<ellipse cx="717.8" cy="152.5" rx="2.6" ry="1.9" fill="#2643a6"/>
<ellipse cx="658.8" cy="568.2" rx="0.9" ry="0.9" fill="#2643a6"/>
<ellipse cx="634" cy="464.5" rx="1.5" ry="0.8" fill="#2643a6"/>
<polygon points="739.8,181.2 743.7,177.4 749.4,176.4 751.3,179.3 745.6,183.1 741.8,185" fill="#e2b3df" stroke="#e2b3df" stroke-width="0.3" stroke-linejoin="round" />
<polygon points="741.8,171.6 746.5,169.7 747.5,173.5 743.7,175.5" fill="#e2b3df" stroke="#e2b3df" stroke-width="0.3" stroke-linejoin="round" />
<ellipse cx="536" cy="515" rx="5" ry="3.6" fill="#e2b3df" transform="rotate(-20 536 515)"/>
<ellipse cx="550" cy="510" rx="2.6" ry="1.2" fill="#e2b3df" transform="rotate(-20 550 510)"/>
<ellipse cx="514" cy="524" rx="2.2" ry="1.5" fill="#e2b3df" transform="rotate(-30 514 524)"/>
<ellipse cx="850.4" cy="503.8" rx="4" ry="2.6" fill="#e2b3df" transform="rotate(-20 850.4 503.8)"/>
<ellipse cx="849.7" cy="517.3" rx="1.7" ry="3" fill="#e2b3df"/>
<ellipse cx="862.8" cy="526.7" rx="2.6" ry="1.3" fill="#e2b3df"/>
<ellipse cx="834.8" cy="493.4" rx="2.2" ry="1.6" fill="#e2b3df"/>
<ellipse cx="825.4" cy="482" rx="1.5" ry="1.4" fill="#e2b3df"/>
<ellipse cx="837" cy="483.5" rx="1.2" ry="0.9" fill="#e2b3df"/>
<ellipse cx="884.6" cy="549.5" rx="1.7" ry="4.6" fill="#e2b3df" transform="rotate(25 884.6 549.5)"/>
<ellipse cx="875.3" cy="563" rx="0.9" ry="2.2" fill="#e2b3df" transform="rotate(10 875.3 563)"/>
<ellipse cx="872" cy="546" rx="1.6" ry="0.9" fill="#e2b3df" transform="rotate(-30 872 546)"/>
<ellipse cx="763" cy="509.4" rx="1.1" ry="2.8" fill="#e2b3df" transform="rotate(-25 763 509.4)"/>
<ellipse cx="776.6" cy="526.7" rx="1" ry="1.6" fill="#e2b3df"/>
<ellipse cx="776.6" cy="533.5" rx="2.4" ry="2.2" fill="#e2b3df" transform="rotate(-20 776.6 533.5)"/>
<ellipse cx="780.8" cy="541.2" rx="1.6" ry="1.6" fill="#e2b3df"/>
<ellipse cx="815" cy="562" rx="1" ry="1" fill="#e2b3df"/>
<ellipse cx="832.7" cy="530.8" rx="1.5" ry="1" fill="#e2b3df" transform="rotate(30 832.7 530.8)"/>
<ellipse cx="838.9" cy="536" rx="1.4" ry="1" fill="#e2b3df"/>
<ellipse cx="845.2" cy="542.2" rx="1.3" ry="1.3" fill="#e2b3df"/>
<ellipse cx="847.2" cy="546.4" rx="1.2" ry="1" fill="#e2b3df"/>
<ellipse cx="833.7" cy="551" rx="1.3" ry="1" fill="#e2b3df"/>
<ellipse cx="849.3" cy="553.7" rx="1.2" ry="1" fill="#e2b3df"/>
<ellipse cx="842" cy="542.2" rx="1.2" ry="1" fill="#e2b3df"/>
<ellipse cx="853.5" cy="531.9" rx="1.4" ry="1" fill="#e2b3df"/>
<ellipse cx="861.8" cy="538.1" rx="1.3" ry="0.9" fill="#e2b3df"/>
<ellipse cx="868" cy="538.1" rx="1.3" ry="0.9" fill="#e2b3df"/>
<ellipse cx="858" cy="545" rx="1.2" ry="0.9" fill="#e2b3df"/>
<ellipse cx="866" cy="556" rx="1" ry="0.9" fill="#e2b3df"/>
<ellipse cx="693.1" cy="581.6" rx="1.4" ry="0.8" fill="#e2b3df" transform="rotate(35 693.1 581.6)"/>
<polyline points="588,142 594,141.6 601.5,143.2" fill="none" stroke="#f4f4f4" stroke-width="0.9" stroke-opacity="1" stroke-linejoin="round" stroke-linecap="round"/>
<polyline points="589,160.5 594.5,158.5" fill="none" stroke="#f4f4f4" stroke-width="0.9" stroke-opacity="1" stroke-linejoin="round" stroke-linecap="round"/>
<polyline points="590,172.5 594.5,171" fill="none" stroke="#f4f4f4" stroke-width="0.9" stroke-opacity="1" stroke-linejoin="round" stroke-linecap="round"/>
<polyline points="624,101 629,102.5 633,101.5" fill="none" stroke="#f4f4f4" stroke-width="0.9" stroke-opacity="1" stroke-linejoin="round" stroke-linecap="round"/>
<g opacity="0.999"><line x1="586.75" y1="341.2" x2="599" y2="341.2" stroke="#fff" stroke-width="0.8"/><circle cx="586.75" cy="341.2" r="1.3" fill="#fff"/>
<circle cx="425.2" cy="67.7" r="9.6" fill="#fff"/><text x="424.2" y="71.8" font-size="11.5" font-weight="bold" fill="#1a3668" text-anchor="middle" textLength="13.2" lengthAdjust="spacingAndGlyphs">119</text><text x="430.8" y="69.0" font-size="7" font-weight="bold" fill="#1a3668">*</text>
<circle cx="619" cy="137.5" r="8.1" fill="#fff"/><text x="618.2" y="141.2" font-size="10.4" font-weight="bold" fill="#1a3668" text-anchor="middle" textLength="12.8" lengthAdjust="spacingAndGlyphs">124</text><text x="624.5" y="139.1" font-size="6.5" font-weight="bold" fill="#1a3668">*</text>
<circle cx="755.8" cy="107" r="8.1" fill="#fff"/><text x="755.8" y="110.7" font-size="10.4" font-weight="bold" fill="#1a3668" text-anchor="middle" textLength="12.8" lengthAdjust="spacingAndGlyphs">105</text>
<circle cx="665.5" cy="185.8" r="8.1" fill="#fff"/><text x="665.5" y="189.5" font-size="10.4" font-weight="bold" fill="#1a3668" text-anchor="middle" textLength="12.8" lengthAdjust="spacingAndGlyphs">106</text>
<circle cx="619.8" cy="234.6" r="8.1" fill="#fff"/><text x="619.8" y="238.29999999999998" font-size="10.4" font-weight="bold" fill="#1a3668" text-anchor="middle" textLength="12.8" lengthAdjust="spacingAndGlyphs">108</text>
<circle cx="774.3" cy="170.4" r="7.5" fill="#fff"/><text x="774.3" y="174.5" font-size="11.5" font-weight="bold" fill="#1a3668" text-anchor="middle" textLength="9.9" lengthAdjust="spacingAndGlyphs">75</text>
<circle cx="781.4" cy="201" r="7.5" fill="#fff"/><text x="781.4" y="205.1" font-size="11.5" font-weight="bold" fill="#1a3668" text-anchor="middle" textLength="9.9" lengthAdjust="spacingAndGlyphs">74</text>
<circle cx="770.6" cy="231.7" r="7.5" fill="#fff"/><text x="770.6" y="235.79999999999998" font-size="11.5" font-weight="bold" fill="#1a3668" text-anchor="middle" textLength="9.9" lengthAdjust="spacingAndGlyphs">88</text>
<circle cx="726" cy="290" r="7.5" fill="#fff"/><text x="726" y="294.1" font-size="11.5" font-weight="bold" fill="#1a3668" text-anchor="middle" textLength="9.9" lengthAdjust="spacingAndGlyphs">83</text>
<circle cx="580.6" cy="296" r="8.1" fill="#fff"/><text x="580.6" y="299.7" font-size="10.4" font-weight="bold" fill="#1a3668" text-anchor="middle" textLength="11.8" lengthAdjust="spacingAndGlyphs">119</text>
<circle cx="628.3" cy="314.4" r="8.1" fill="#fff"/><text x="628.3" y="318.09999999999997" font-size="10.4" font-weight="bold" fill="#1a3668" text-anchor="middle" textLength="11.8" lengthAdjust="spacingAndGlyphs">119</text>
<circle cx="567.9" cy="322.3" r="8.1" fill="#fff"/><text x="567.9" y="326.0" font-size="10.4" font-weight="bold" fill="#1a3668" text-anchor="middle" textLength="11.8" lengthAdjust="spacingAndGlyphs">113</text>
<circle cx="607" cy="341" r="8.1" fill="#fff"/><text x="607" y="344.7" font-size="10.4" font-weight="bold" fill="#1a3668" text-anchor="middle" textLength="12.8" lengthAdjust="spacingAndGlyphs">136</text>
<circle cx="682" cy="340" r="7.5" fill="#fff"/><text x="682" y="344.1" font-size="11.5" font-weight="bold" fill="#1a3668" text-anchor="middle" textLength="8.85" lengthAdjust="spacingAndGlyphs">81</text>
<circle cx="730.5" cy="353.75" r="7.5" fill="#fff"/><text x="730.5" y="357.85" font-size="11.5" font-weight="bold" fill="#1a3668" text-anchor="middle" textLength="9.9" lengthAdjust="spacingAndGlyphs">77</text>
<circle cx="679.5" cy="379.5" r="8.1" fill="#fff"/><text x="679.5" y="383.2" font-size="10.4" font-weight="bold" fill="#1a3668" text-anchor="middle" textLength="11.8" lengthAdjust="spacingAndGlyphs">114</text>
<circle cx="606" cy="390.1" r="8.1" fill="#fff"/><text x="605.2" y="393.8" font-size="10.4" font-weight="bold" fill="#1a3668" text-anchor="middle" textLength="11.8" lengthAdjust="spacingAndGlyphs">116</text><text x="611.0" y="391.70000000000005" font-size="6.5" font-weight="bold" fill="#1a3668">*</text>
<circle cx="734.25" cy="383.25" r="7.5" fill="#fff"/><text x="734.25" y="387.35" font-size="11.5" font-weight="bold" fill="#1a3668" text-anchor="middle" textLength="9.9" lengthAdjust="spacingAndGlyphs">70</text>
<circle cx="680.5" cy="405.75" r="7.5" fill="#fff"/><text x="680.5" y="409.85" font-size="11.5" font-weight="bold" fill="#1a3668" text-anchor="middle" textLength="9.9" lengthAdjust="spacingAndGlyphs">85</text>
<circle cx="706.25" cy="408.75" r="7.5" fill="#fff"/><text x="706.25" y="412.85" font-size="11.5" font-weight="bold" fill="#1a3668" text-anchor="middle" textLength="9.9" lengthAdjust="spacingAndGlyphs">76</text>
<circle cx="808.5" cy="394" r="7.5" fill="#fff"/><text x="808.5" y="398.1" font-size="11.5" font-weight="bold" fill="#1a3668" text-anchor="middle" textLength="9.9" lengthAdjust="spacingAndGlyphs">86</text>
<circle cx="817.5" cy="446" r="7.5" fill="#fff"/><text x="817.5" y="450.1" font-size="11.5" font-weight="bold" fill="#1a3668" text-anchor="middle" textLength="9.9" lengthAdjust="spacingAndGlyphs">70</text>
<circle cx="782" cy="505.5" r="7.5" fill="#fff"/><text x="782" y="509.6" font-size="11.5" font-weight="bold" fill="#1a3668" text-anchor="middle" textLength="9.9" lengthAdjust="spacingAndGlyphs">80</text>
<circle cx="662.3" cy="461" r="8.1" fill="#fff"/><text x="662.3" y="464.7" font-size="10.4" font-weight="bold" fill="#1a3668" text-anchor="middle" textLength="12.8" lengthAdjust="spacingAndGlyphs">100</text>
<circle cx="539.25" cy="391.75" r="8.1" fill="#fff"/><text x="539.25" y="395.45" font-size="10.4" font-weight="bold" fill="#1a3668" text-anchor="middle" textLength="12.8" lengthAdjust="spacingAndGlyphs">106</text>
<circle cx="445.3" cy="263.6" r="7.5" fill="#fff"/><text x="445.3" y="267.70000000000005" font-size="11.5" font-weight="bold" fill="#1a3668" text-anchor="middle" textLength="9.9" lengthAdjust="spacingAndGlyphs">99</text>
<circle cx="393.25" cy="474.25" r="7.5" fill="#fff"/><text x="393.25" y="478.35" font-size="11.5" font-weight="bold" fill="#1a3668" text-anchor="middle" textLength="9.9" lengthAdjust="spacingAndGlyphs">85</text>
<circle cx="449.25" cy="491.75" r="7.5" fill="#fff"/><text x="449.25" y="495.85" font-size="11.5" font-weight="bold" fill="#1a3668" text-anchor="middle" textLength="8.85" lengthAdjust="spacingAndGlyphs">91</text>
<line x1="945" y1="549.3" x2="951.8" y2="549.6" stroke="#999" stroke-width="0.8"/>
<circle cx="936.6" cy="549" r="8.5" fill="#213c98"/><text x="936.6" y="552.7" font-size="11" font-weight="bold" fill="#fff" text-anchor="middle" textLength="12.8" lengthAdjust="spacingAndGlyphs">100</text></g>
<rect x="0" y="586" width="980" height="4" fill="url(#bot)"/>
</g>
<g opacity="0.999"><rect x="863" y="105" width="90" height="90" fill="#000" opacity="0.12" filter="url(#sh)"/>
<rect x="865.2" y="106.8" width="85.3" height="85.2" fill="#f4f4f4" stroke="#fff" stroke-width="2"/>
<text x="894.3" y="123" font-size="12" font-weight="bold" fill="#222" stroke="#222" stroke-width="0.25" textLength="28.6" lengthAdjust="spacingAndGlyphs">MALTA</text>
<ellipse cx="883" cy="136" rx="7" ry="3.8" fill="#e2b3df" transform="rotate(20 883 136)"/>
<ellipse cx="893.6" cy="141.5" rx="1.6" ry="1.2" fill="#e2b3df"/>
<polygon points="894.5,144.5 901.5,146.2 910.3,150.6 917.3,156.7 920.8,162.9 915.5,166.4 906.7,165.5 898,162 893.6,155.9 892.7,149.7" fill="#e2b3df" stroke="#e2b3df" stroke-width="0.3" stroke-linejoin="round" />
<line x1="906.4" y1="154.1" x2="925" y2="154.1" stroke="#555" stroke-width="0.8"/><circle cx="906.4" cy="154.1" r="1.5" fill="#223"/>
<circle cx="933.6" cy="154.1" r="10.2" fill="#3b7fd2"/>
<text x="933.6" y="159.6" font-size="15.5" font-weight="bold" fill="#fff" text-anchor="middle" textLength="15" lengthAdjust="spacingAndGlyphs">90</text></g>
<g opacity="0.999"><text stroke="#272b3a" stroke-width="0.3" x="20.8" y="50.9" font-size="25.2" font-weight="bold" font-style="normal" fill="#272b3a" textLength="299" lengthAdjust="spacingAndGlyphs">Actual individual consumption</text>
<text stroke="#272b3a" stroke-width="0.3" x="22" y="79.8" font-size="25.2" font-weight="bold" font-style="normal" fill="#272b3a" textLength="292" lengthAdjust="spacingAndGlyphs">volume index per capita, 2023</text>
<text x="21.5" y="106.1" font-size="17" font-weight="normal" font-style="italic" fill="#333846" textLength="229.5" lengthAdjust="spacingAndGlyphs">(in purchasing power standards)</text>
<rect x="21.2" y="220.7" width="17.7" height="11.8" fill="#1c2a78"/>
<circle cx="30.05" cy="223.00" r="0.55" fill="#f5d23b"/>
<circle cx="31.85" cy="223.48" r="0.55" fill="#f5d23b"/>
<circle cx="33.17" cy="224.80" r="0.55" fill="#f5d23b"/>
<circle cx="33.65" cy="226.60" r="0.55" fill="#f5d23b"/>
<circle cx="33.17" cy="228.40" r="0.55" fill="#f5d23b"/>
<circle cx="31.85" cy="229.72" r="0.55" fill="#f5d23b"/>
<circle cx="30.05" cy="230.20" r="0.55" fill="#f5d23b"/>
<circle cx="28.25" cy="229.72" r="0.55" fill="#f5d23b"/>
<circle cx="26.93" cy="228.40" r="0.55" fill="#f5d23b"/>
<circle cx="26.45" cy="226.60" r="0.55" fill="#f5d23b"/>
<circle cx="26.93" cy="224.80" r="0.55" fill="#f5d23b"/>
<circle cx="28.25" cy="223.48" r="0.55" fill="#f5d23b"/>
<text x="45.2" y="232.7" font-size="15" font-weight="bold" font-style="normal" fill="#272b3a" textLength="50.8" lengthAdjust="spacingAndGlyphs">EU = 100</text>
<circle cx="29.9" cy="254.7" r="8.2" fill="#2643a6"/><circle cx="29.9" cy="276" r="8.2" fill="#e2b3df"/><circle cx="29.9" cy="297.4" r="8.2" fill="#d690da"/>
<text x="45" y="259.1" font-size="12.6" font-weight="bold" font-style="normal" fill="#272b3a" textLength="81.5" lengthAdjust="spacingAndGlyphs">Above EU average</text>
<text x="44.8" y="280.3" font-size="12.6" font-weight="bold" font-style="normal" fill="#272b3a" textLength="149.6" lengthAdjust="spacingAndGlyphs">Less than 25% below EU average</text>
<text x="44.8" y="301.5" font-size="12.6" font-weight="bold" font-style="normal" fill="#272b3a" textLength="153.2" lengthAdjust="spacingAndGlyphs">More than 25% below EU average</text>
<text x="21.2" y="329.6" font-size="11" font-weight="normal" font-style="italic" fill="#7a7a7a" textLength="110" lengthAdjust="spacingAndGlyphs">Administrative boundaries:</text>
<text x="21.2" y="345" font-size="11" font-weight="normal" font-style="italic" fill="#7a7a7a" textLength="157.5" lengthAdjust="spacingAndGlyphs">© EuroGeographics  © UN-FAO © Turkstat</text>
<text x="20.4" y="360.3" font-size="11" font-weight="normal" font-style="italic" fill="#7a7a7a" textLength="150.6" lengthAdjust="spacingAndGlyphs">Cartography: Eurostat - IMAGE, 12/2023</text>
<text x="19.9" y="496.3" font-size="13.2" font-weight="normal" font-style="italic" fill="#2b2f3c" textLength="85.2" lengthAdjust="spacingAndGlyphs">*Non-EU countries</text>
<text x="22" y="515.4" font-size="13.2" font-weight="normal" font-style="italic" fill="#2b2f3c" textLength="271.5" lengthAdjust="spacingAndGlyphs">Actual individual consumption: all goods and services actually</text>
<text x="21" y="528.9" font-size="13.2" font-weight="normal" font-style="italic" fill="#2b2f3c" textLength="113.9" lengthAdjust="spacingAndGlyphs">consumed by households.</text>
<text x="21" y="548" font-size="13.2" font-weight="normal" font-style="italic" fill="#2b2f3c" textLength="278.4" lengthAdjust="spacingAndGlyphs">Purchasing power standard: artificial currency unit that adjusts</text>
<text x="21" y="562.2" font-size="13.2" font-weight="normal" font-style="italic" fill="#2b2f3c" textLength="303.8" lengthAdjust="spacingAndGlyphs">national economies for price level differences, enabling a comparable</text>
<text x="21" y="577.2" font-size="13.2" font-weight="normal" font-style="italic" fill="#2b2f3c" textLength="228.8" lengthAdjust="spacingAndGlyphs">measure of buying power across different countries.</text>
<text x="37.8" y="621.6" font-size="26.7" font-weight="bold" font-style="normal" fill="#7b7c80" textLength="98.5" lengthAdjust="spacingAndGlyphs">eurostat</text>
<rect x="138.2" y="606.2" width="23.3" height="15.4" fill="#2447a8"/>
<circle cx="149.85" cy="609.00" r="0.7" fill="#f5d23b"/>
<circle cx="152.30" cy="609.66" r="0.7" fill="#f5d23b"/>
<circle cx="154.09" cy="611.45" r="0.7" fill="#f5d23b"/>
<circle cx="154.75" cy="613.90" r="0.7" fill="#f5d23b"/>
<circle cx="154.09" cy="616.35" r="0.7" fill="#f5d23b"/>
<circle cx="152.30" cy="618.14" r="0.7" fill="#f5d23b"/>
<circle cx="149.85" cy="618.80" r="0.7" fill="#f5d23b"/>
<circle cx="147.40" cy="618.14" r="0.7" fill="#f5d23b"/>
<circle cx="145.61" cy="616.35" r="0.7" fill="#f5d23b"/>
<circle cx="144.95" cy="613.90" r="0.7" fill="#f5d23b"/>
<circle cx="145.61" cy="611.45" r="0.7" fill="#f5d23b"/>
<circle cx="147.40" cy="609.66" r="0.7" fill="#f5d23b"/></g>
<polygon points="964,626 980,606 980,626" fill="url(#yel)"/>
</svg></body></html>
